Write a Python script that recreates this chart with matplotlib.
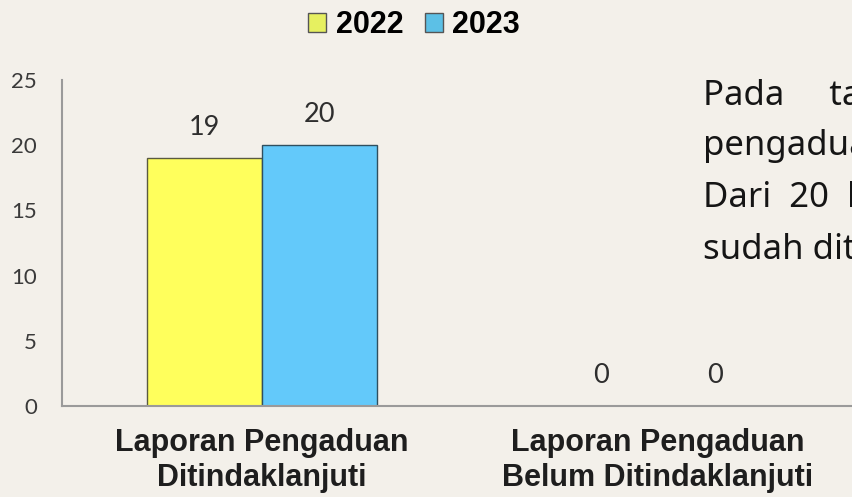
import matplotlib.pyplot as plt
import numpy as np
from matplotlib.patches import Patch

# data
categories = ["Laporan Pengaduan\nDitindaklanjuti", "Laporan Pengaduan\nBelum Ditindaklanjuti"]
years = ["2022", "2023"]
values_2022 = [19, 0]
values_2023 = [20, 0]
y_ticks = [0, 5, 10, 15, 20, 25]
paragraph = [
    "Pada     tahun 2023 terdapat 20 laporan",
    "pengaduan yang masuk.",
    "Dari  20  laporan pengaduan tersebut",
    "sudah ditindaklanjuti seluruhnya.",
]

BG = "#f3f0ea"
colors = ["#ffff5c", "#63c9fa"]
legend_colors = ["#e6f060", "#5cc0e6"]

W, H = 852, 497
fig = plt.figure(figsize=(W / 100, H / 100), dpi=100, facecolor=BG)

# axes box in pixels: left spine x=62, zero line y=406, top (25) y=80
ax = fig.add_axes([62 / W, (H - 406) / H, 1 - 62 / W, (406 - 80) / H])
ax.set_facecolor(BG)

x = np.arange(len(categories))
width = 0.29
bars1 = ax.bar(x - width / 2, values_2022, width, color=colors[0],
               edgecolor="#5a5a40", linewidth=1.0, label=years[0])
bars2 = ax.bar(x + width / 2, values_2023, width, color=colors[1],
               edgecolor="#2f4f5f", linewidth=1.0, label=years[1])

for bars in (bars1, bars2):
    for b in bars:
        v = b.get_height()
        ax.annotate(f"{v:g}", (b.get_x() + b.get_width() / 2, v),
                    xytext=(0, 22), textcoords="offset points",
                    ha="center", va="center", fontsize=19.5,
                    family="Lato", color="#2e2e2e")

ax.set_xlim(-0.505, 1.49)
ax.set_ylim(0, 25)
ax.set_yticks(y_ticks)
ax.set_yticklabels([str(t) for t in y_ticks], family="Lato", fontsize=16,
                   color="#3a3a3a")
ax.tick_params(axis="y", length=0, pad=18)
ax.set_xticks(x)
ax.set_xticklabels(categories, family="Liberation Sans", fontsize=22,
                   fontweight="bold", color="#1e1e1e", linespacing=1.22)
ax.tick_params(axis="x", length=0, pad=16)

for s in ("top", "right"):
    ax.spines[s].set_visible(False)
ax.spines["left"].set_color("#9a9a9a")
ax.spines["bottom"].set_color("#9a9a9a")
ax.spines["left"].set_linewidth(1.5)
ax.spines["bottom"].set_linewidth(1.5)

handles = [Patch(facecolor=legend_colors[i], edgecolor="#555555", label=years[i])
           for i in range(2)]
fig.legend(handles=handles, loc="center", bbox_to_anchor=(414 / W, 1 - 25 / H),
           ncol=2, frameon=False, borderpad=0, handlelength=0.59,
           handleheight=0.59, handletextpad=0.3, columnspacing=0.7,
           prop={"family": "Liberation Sans", "weight": "bold", "size": 22})

# paragraph text overlapping on the right, clipped by the figure edge
baselines = [105, 155, 207, 259]
for line, yb in zip(paragraph, baselines):
    fig.text(703 / W, 1 - yb / H, line, family="Noto Sans", fontsize=25,
             color="#151515", ha="left", va="baseline")

fig.savefig("out.png", dpi=100, facecolor=BG)
